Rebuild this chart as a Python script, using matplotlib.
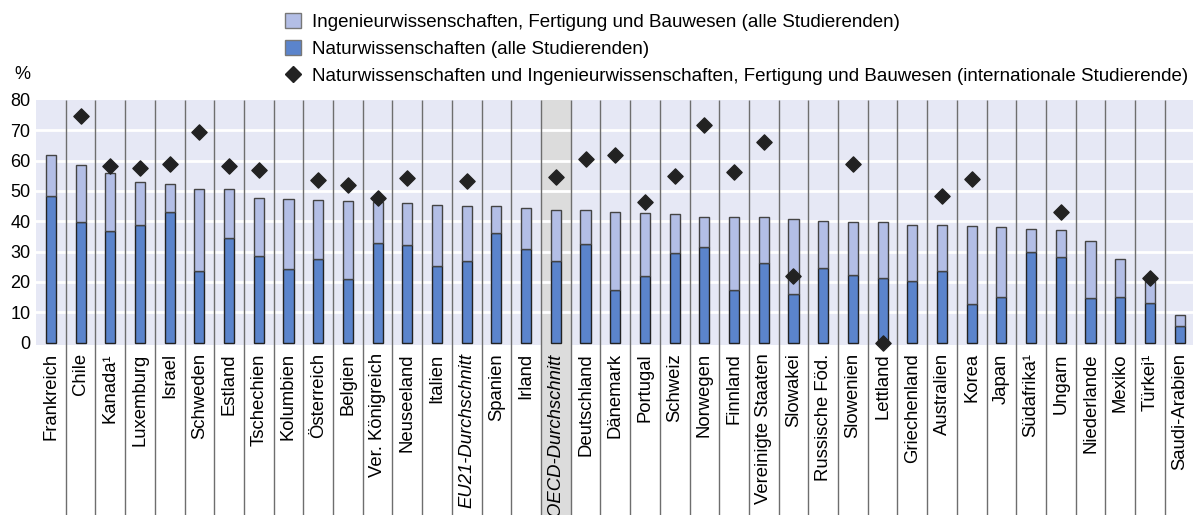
import numpy as np
import matplotlib
matplotlib.use("Agg")
import matplotlib.pyplot as plt
from matplotlib.patches import Patch, Rectangle
from matplotlib.lines import Line2D
import matplotlib.transforms as mtransforms

countries = ["Frankreich", "Chile", "Kanada¹", "Luxemburg", "Israel", "Schweden", "Estland",
             "Tschechien", "Kolumbien", "Österreich", "Belgien", "Ver. Königreich", "Neuseeland",
             "Italien", "EU21-Durchschnitt", "Spanien", "Irland", "OECD-Durchschnitt",
             "Deutschland", "Dänemark", "Portugal", "Schweiz", "Norwegen", "Finnland",
             "Vereinigte Staaten", "Slowakei", "Russische Föd.", "Slowenien", "Lettland",
             "Griechenland", "Australien", "Korea", "Japan", "Südafrika¹", "Ungarn",
             "Niederlande", "Mexiko", "Türkei¹", "Saudi-Arabien"]

# Naturwissenschaften (alle Studierenden)
science = [48.3, 39.8, 36.7, 38.9, 43.0, 23.6, 34.5, 28.5, 24.3, 27.4, 21.0, 32.7, 32.3,
           25.4, 26.8, 36.1, 30.8, 26.8, 32.5, 17.5, 22.1, 29.4, 31.6, 17.5, 26.3, 15.9,
           24.7, 22.2, 21.4, 20.4, 23.7, 12.8, 15.1, 29.8, 28.1, 14.7, 15.1, 13.0, 5.5]

# Ingenieurwissenschaften, Fertigung und Bauwesen (alle Studierenden)
engineering = [13.4, 18.6, 19.1, 14.0, 9.3, 27.2, 16.0, 19.3, 22.9, 19.7, 25.6, 13.8, 13.7,
               19.9, 18.1, 8.8, 13.5, 16.9, 11.1, 25.6, 20.7, 12.9, 9.8, 23.8, 15.0, 24.8,
               15.5, 17.7, 18.5, 18.5, 15.2, 25.8, 23.0, 7.8, 8.9, 18.7, 12.6, 7.3, 3.7]

# internationale Studierende (None = keine Daten)
international = [None, 74.8, 58.3, 57.5, 59.0, 69.3, 58.2, 56.8, None, 53.7, 52.1, 47.7, 54.2,
                 None, 53.2, None, None, 54.5, 60.7, 61.8, 46.4, 54.9, 71.7, 56.1, 66.1, 22.1,
                 None, 58.8, 0.0, None, 48.5, 54.1, None, None, 43.1, None, None, 21.4, None]

light = "#b3bee6"
dark = "#5b84cc"
bg = "#e6e8f5"
grey_col = "#dcdcdc"

plt.rcParams["font.family"] = ["Liberation Sans", "DejaVu Sans"]

fig = plt.figure(figsize=(11.93, 5.15), dpi=100)
ax = fig.add_axes([36 / 1193, 170 / 515, 1 - 36 / 1193, 245 / 515])
ax.set_facecolor(bg)

x = np.arange(len(countries))
ax.set_xlim(-0.5, len(countries) - 0.55)
ax.set_ylim(-0.8, 80)

# grey background column for the OECD average
oecd_idx = countries.index("OECD-Durchschnitt")
trans = mtransforms.blended_transform_factory(ax.transData, ax.transAxes)
ax.add_patch(Rectangle((oecd_idx - 0.5, -0.7), 1, 1.7, transform=trans,
                       facecolor=grey_col, edgecolor="none", clip_on=False, zorder=0.5))

for yv in range(10, 80, 10):
    ax.axhline(yv, color="white", lw=2, zorder=1)

# separators between countries, running down through the labels
ax.vlines(x[:-1] + 0.5, -0.7, 1, transform=trans, colors="#6e6e6e", lw=1,
          clip_on=False, zorder=1.5)

ax.bar(x, science, width=0.34, color=dark, edgecolor="#222222", lw=1, zorder=2)
ax.bar(x, engineering, width=0.34, bottom=science, color=light, edgecolor="#444444",
       lw=1, zorder=2)

ix = [i for i, v in enumerate(international) if v is not None]
iv = [international[i] for i in ix]
ax.scatter(ix, iv, marker="D", s=60, color="#222222", zorder=4, clip_on=False)

ax.set_yticks(range(0, 81, 10))
ax.tick_params(axis="y", length=0, labelsize=13, pad=4)
ax.set_xticks(x)
ax.set_xticklabels(countries, rotation=90, fontsize=13.3)
ax.tick_params(axis="x", length=0, pad=6)
for lab in ax.get_xticklabels():
    if "Durchschnitt" in lab.get_text():
        lab.set_style("italic")

for s in ax.spines.values():
    s.set_visible(False)

fig.text(14 / 1193, 1 - 75 / 515, "%", fontsize=13, ha="left", va="center")

handles = [Patch(facecolor=light, edgecolor="#777777"),
           Patch(facecolor=dark, edgecolor="#777777"),
           Line2D([], [], marker="D", color="#222222", ls="none", markersize=8)]
labels = ["Ingenieurwissenschaften, Fertigung und Bauwesen (alle Studierenden)",
          "Naturwissenschaften (alle Studierenden)",
          "Naturwissenschaften und Ingenieurwissenschaften, Fertigung und Bauwesen (internationale Studierende)"]
fig.legend(handles, labels, loc="upper left", bbox_to_anchor=(272 / 1193, 1.0),
           frameon=False, handlelength=0.85, handleheight=0.85,
           handletextpad=0.6, labelspacing=0.48, borderpad=0.2,
           prop={"family": "Liberation Sans", "size": 13.5})

fig.savefig("out.png", dpi=100)
